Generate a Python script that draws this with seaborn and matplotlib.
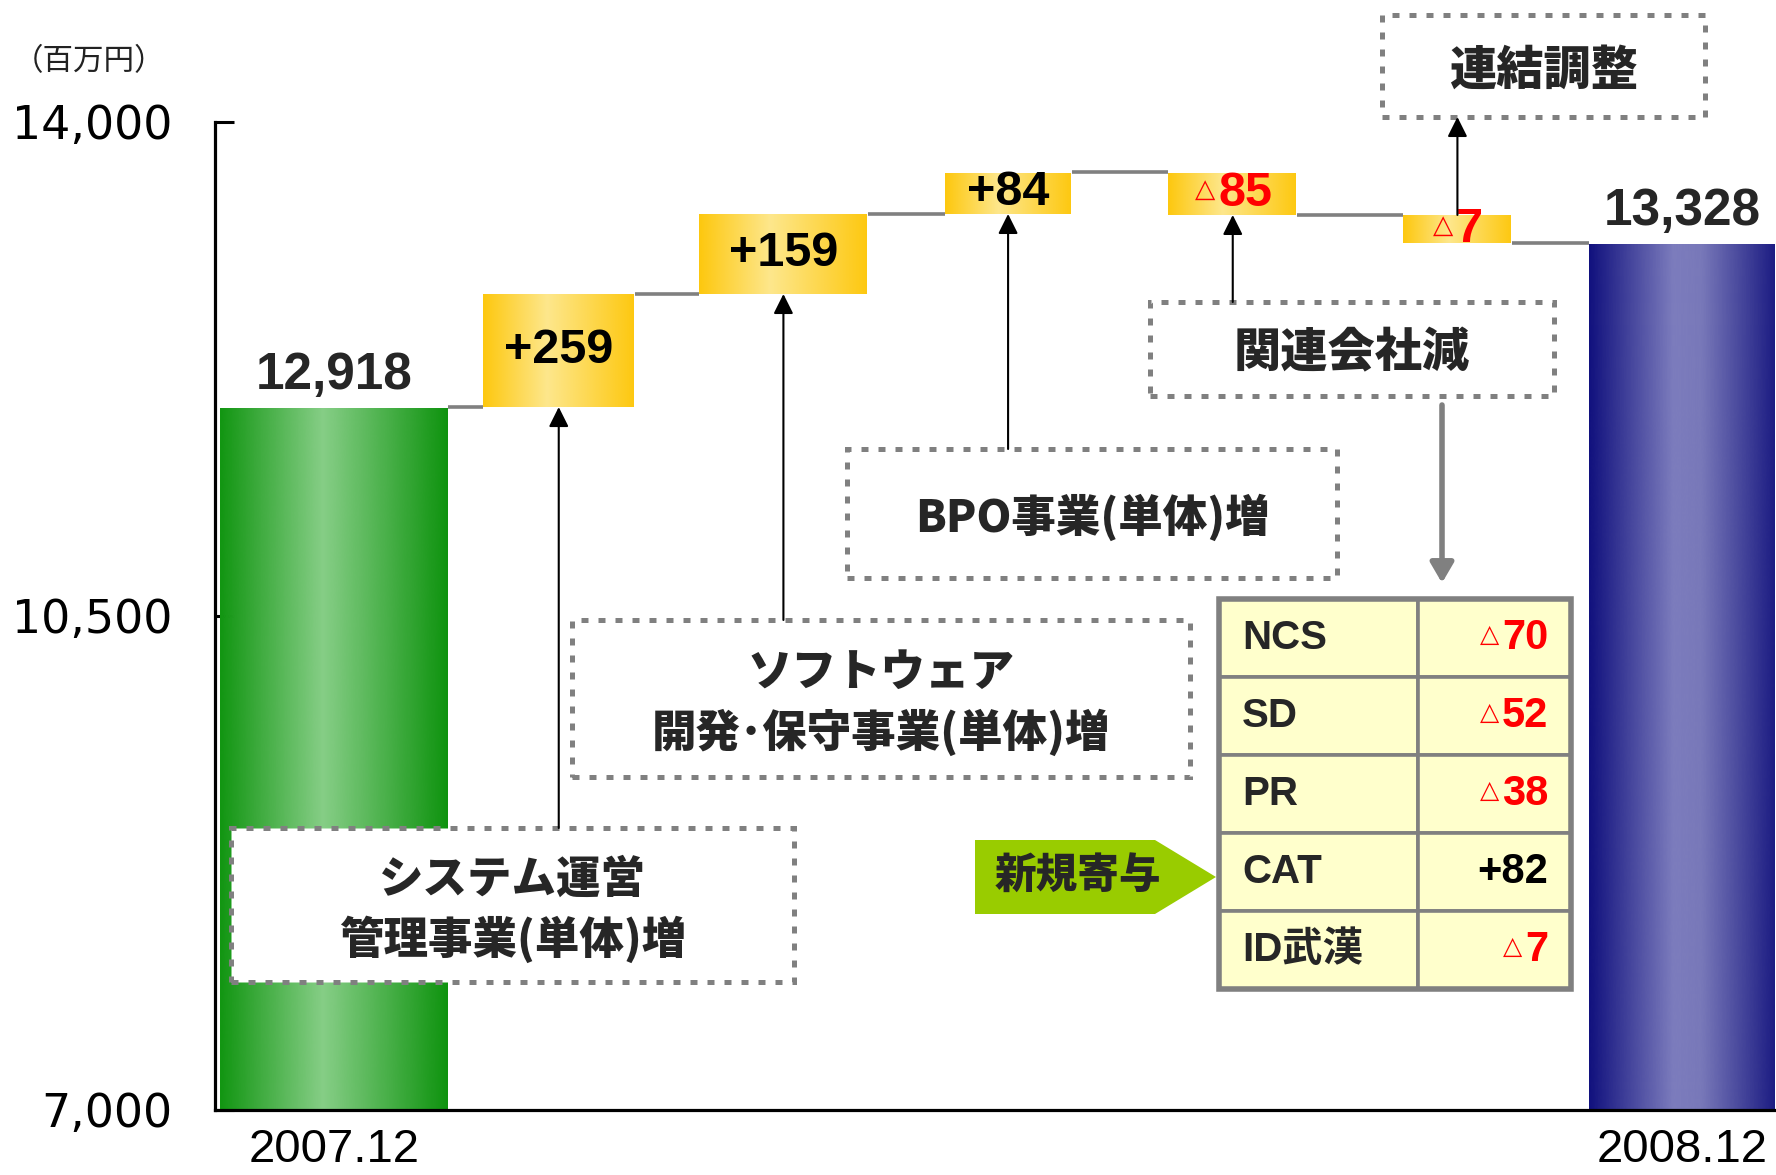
import numpy as np
import pandas as pd
import matplotlib
matplotlib.use("Agg")
import matplotlib.pyplot as plt
import seaborn as sns
from matplotlib.colors import LinearSegmentedColormap
from matplotlib.patches import Rectangle, Polygon
from matplotlib.text import Annotation
from matplotlib.transforms import blended_transform_factory

# ---- data ----
categories = ["2007.12", "システム運営", "ソフトウェア", "BPO", "関連会社", "連結調整", "2008.12"]
start_value = 12918
end_value = 13328
changes = [259, 159, 84, -85, -7]
y_ticks = [7000, 10500, 14000]
unit_label = "（百万円）"
note_lines = [
    ["システム運営", "管理事業(単体)増"],
    ["ソフトウェア", "開発･保守事業(単体)増"],
    ["BPO事業(単体)増"],
    ["関連会社減"],
    ["連結調整"],
]
table_names = ["NCS", "SD", "PR", "CAT", "ID武漢"]
table_values = [-70, -52, -38, 82, -7]
new_label = "新規寄与"

# the slide is not drawn to scale: value -> fraction of axis height as drawn
slide_values = [0, 7000, 10500, 12918, 13177, 13328, 13335, 13336, 13420, 14000, 30000]
slide_heights = [-1.0, 0.0, 0.5, 0.7115, 0.8259, 0.8775, 0.9059, 0.9069, 0.9494, 1.0, 2.0]

# ---- layout / style ----
W, H = 1776, 1175
bar_widths = [1.015, 0.676, 0.752, 0.565, 0.574, 0.485, 0.832]
note_boxes = [(231, 828, 794, 982), (572, 620, 1190, 777), (847, 449, 1337, 578),
              (1150, 302, 1554, 396), (1382, 15, 1705, 117)]
note_sizes = [32, 32, 32, 34, 34]
GRAY = "#808080"
RED = "#ff0000"
NUM_FONT = ["Liberation Sans", "DejaVu Sans"]
JP_FONT = ["Noto Sans CJK JP", "DejaVu Sans"]
MIX_FONT = ["Liberation Sans", "Noto Sans CJK JP", "DejaVu Sans"]

sns.set_theme(style="white")
plt.rcParams["font.family"] = MIX_FONT

fig = plt.figure(figsize=(W / 100, H / 100), dpi=100)
ax = fig.add_axes([215 / W, 1 - 1110 / H, (W - 215) / W, (1110 - 122) / H])


def fx(px):
    return px / W


def fy(py):
    return 1 - py / H


def fwd(v):
    return np.interp(v, slide_values, slide_heights)


def inv(p):
    return np.interp(p, slide_heights, slide_values)


# waterfall geometry from the values
levels = start_value + np.cumsum(changes)
before = np.concatenate([[start_value], levels[:-1]])
step_low = np.minimum(before, levels)
step_high = np.maximum(before, levels)
bar_low = np.concatenate([[0], step_low, [0]])
bar_high = np.concatenate([[start_value], step_high, [end_value]])
df = pd.DataFrame({"item": categories, "low": bar_low, "high": bar_high})

sns.barplot(data=df, x="item", y="high", order=categories, ax=ax,
            color="white", width=0.8, saturation=1, errorbar=None)

ax.set_yscale("function", functions=(fwd, inv))

green = LinearSegmentedColormap.from_list("g", [(0, "#129612"), (0.45, "#86ce86"), (1, "#0e930e")])
gold = LinearSegmentedColormap.from_list("y", [(0, "#fdc80f"), (0.42, "#fee78c"), (1, "#fdc80f")])
navy = LinearSegmentedColormap.from_list("b", [(0, "#11117e"), (0.45, "#7c7cbd"), (0.6, "#7878b9"), (1, "#1b1b82")])
cmaps = [green] + [gold] * len(changes) + [navy]
grad = np.linspace(0, 1, 256).reshape(1, -1)

for patch, w, lo, hi, cm in zip(ax.patches, bar_widths, df["low"], df["high"], cmaps):
    cx = patch.get_x() + patch.get_width() / 2
    patch.set_x(cx - w / 2)
    patch.set_width(w)
    patch.set_y(lo)
    patch.set_height(hi - lo)
    patch.set_facecolor("none")
    patch.set_edgecolor("none")
    im = ax.imshow(grad, cmap=cm, aspect="auto", origin="lower", interpolation="bicubic",
                   extent=(cx - w / 2, cx + w / 2, max(lo, 7000), hi), zorder=1)
    im.set_clip_path(patch)

# connectors between bars
flow = [start_value] + list(levels)
for i in range(len(categories) - 1):
    right = i + bar_widths[i] / 2
    left = i + 1 - bar_widths[i + 1] / 2
    ax.plot([right, left], [flow[i], flow[i]], color=GRAY, lw=2.6, zorder=2,
            solid_capstyle="butt")

ax.set_xlim(-0.53, 6.418)
ax.set_ylim(7000, 14000)
ax.set_axisbelow(True)

# axes styling
ax.set_yticks(y_ticks)
ax.set_yticklabels([f"{t:,}" for t in y_ticks], fontfamily="DejaVu Sans", fontsize=33)
ax.set_xticks([0, len(categories) - 1])
ax.set_xticklabels([categories[0], categories[-1]], fontfamily="Liberation Sans", fontsize=34)
ax.tick_params(axis="y", direction="in", length=14, width=2.2, pad=31, colors="black", left=True)
ax.tick_params(axis="x", length=0, pad=13, colors="black")
ax.set_xlabel("")
ax.set_ylabel("")
for side in ["top", "right"]:
    ax.spines[side].set_visible(False)
for side in ["left", "bottom"]:
    ax.spines[side].set_color("black")
    ax.spines[side].set_linewidth(2.3)
ax.grid(False)

# totals
for i, v in [(0, start_value), (len(categories) - 1, end_value)]:
    ax.annotate(f"{v:,}", xy=(i, v), xytext=(0, 5), textcoords="offset points",
                ha="center", va="bottom", fontsize=37, fontweight="bold", fontfamily=NUM_FONT)


def signed(x, y, value, size, tri_size, ha, coords, shift):
    if value >= 0:
        t = Annotation(f"+{value}", xy=(x, y), xycoords=coords, ha=ha, va="center",
                       fontsize=size, fontweight="bold", fontfamily=NUM_FONT, color="black")
        fig.add_artist(t)
        return
    t = Annotation(f"{-value}", xy=(x, y), xycoords=coords, xytext=(shift, 0),
                   textcoords="offset points", ha=ha, va="center", fontsize=size,
                   fontweight="bold", fontfamily=NUM_FONT, color=RED)
    fig.add_artist(t)
    tri = Annotation("△", xy=(0, 0.58), xycoords=t, xytext=(-2, 0), textcoords="offset points",
                     ha="right", va="center", fontsize=tri_size, fontfamily="DejaVu Sans", color=RED)
    fig.add_artist(tri)


# step labels inside the boxes
for i, (ch, lo, hi) in enumerate(zip(changes, step_low, step_high)):
    mid = inv((fwd(lo) + fwd(hi)) / 2)
    signed(i + 1, mid, ch, 35, 19, "center", ax.transData, 9)

# explanation boxes with arrows
blend = blended_transform_factory(ax.transData, fig.transFigure)
arrow_kw = dict(arrowstyle="-|>,head_length=0.6,head_width=0.3", mutation_scale=20,
                lw=1.5, color="black", shrinkA=0, shrinkB=0)
for i, (lines, box, size) in enumerate(zip(note_lines, note_boxes, note_sizes)):
    x0, y0, x1, y1 = box
    fig.add_artist(Rectangle((fx(x0), fy(y1)), fx(x1) - fx(x0), fy(y0) - fy(y1),
                             transform=fig.transFigure, fc="white", ec=GRAY, lw=3.6,
                             ls=(0, (1.4, 2.0)), zorder=1))
    cx, cy = (x0 + x1) / 2, (y0 + y1) / 2 + 4
    if len(lines) == 1:
        ys = [cy]
    else:
        ys = [cy - 30, cy + 30]
    for line, yy in zip(lines, ys):
        fig.text(fx(cx), fy(yy), line, ha="center", va="center", fontsize=size,
                 fontweight="heavy", fontfamily=JP_FONT, zorder=3)
    cat = i + 1
    if i < len(note_lines) - 1:
        a = Annotation("", xy=(cat, step_low[i]), xycoords=ax.transData,
                       xytext=(cat, fy(y0)), textcoords=blend, arrowprops=arrow_kw)
    else:
        a = Annotation("", xy=(cat, fy(y1)), xycoords=blend,
                       xytext=(cat, step_high[i]), textcoords=ax.transData, arrowprops=arrow_kw)
    fig.add_artist(a)

# gray arrow down to the breakdown table
fig.add_artist(Annotation("", xy=(fx(1442), fy(583)), xycoords="figure fraction",
                          xytext=(fx(1442), fy(405)), textcoords="figure fraction",
                          arrowprops=dict(arrowstyle="-|>,head_length=0.6,head_width=0.35",
                                          mutation_scale=20, lw=4, color=GRAY,
                                          shrinkA=0, shrinkB=0)))

# breakdown table
tx0, tx_mid, tx1, ty0, ty1 = 1219, 1418, 1571, 599, 989
row_h = (ty1 - ty0) / len(table_names)
for r, (name, val) in enumerate(zip(table_names, table_values)):
    top = ty0 + r * row_h
    for a_, b_ in [(tx0, tx_mid), (tx_mid, tx1)]:
        fig.add_artist(Rectangle((fx(a_), fy(top + row_h)), fx(b_) - fx(a_), row_h / H,
                                 transform=fig.transFigure, fc="#ffffcc", ec=GRAY, lw=2.6, zorder=1))
    yc = top + row_h / 2
    fig.text(fx(1242), fy(yc), name, ha="left", va="center", fontsize=29,
             fontweight="bold", fontfamily=MIX_FONT, zorder=3)
    signed(fx(1548), fy(yc), val, 30, 18, "right", "figure fraction", 0)
fig.add_artist(Rectangle((fx(tx0), fy(ty1)), fx(tx1) - fx(tx0), (ty1 - ty0) / H,
                         transform=fig.transFigure, fc="none", ec=GRAY, lw=4, zorder=2))

# new contribution tag
fig.add_artist(Polygon([(fx(975), fy(840)), (fx(1155), fy(840)), (fx(1216), fy(877)),
                        (fx(1155), fy(914)), (fx(975), fy(914))],
                       closed=True, transform=fig.transFigure, fc="#99cc00", ec="none", zorder=1))
fig.text(fx(1078), fy(877), new_label, ha="center", va="center", fontsize=30,
         fontweight="heavy", fontfamily=JP_FONT, zorder=3)

fig.text(fx(89), fy(62), unit_label, ha="center", va="center", fontsize=22,
         fontfamily=JP_FONT, color="#222222")

fig.savefig("out.png", dpi=100)
